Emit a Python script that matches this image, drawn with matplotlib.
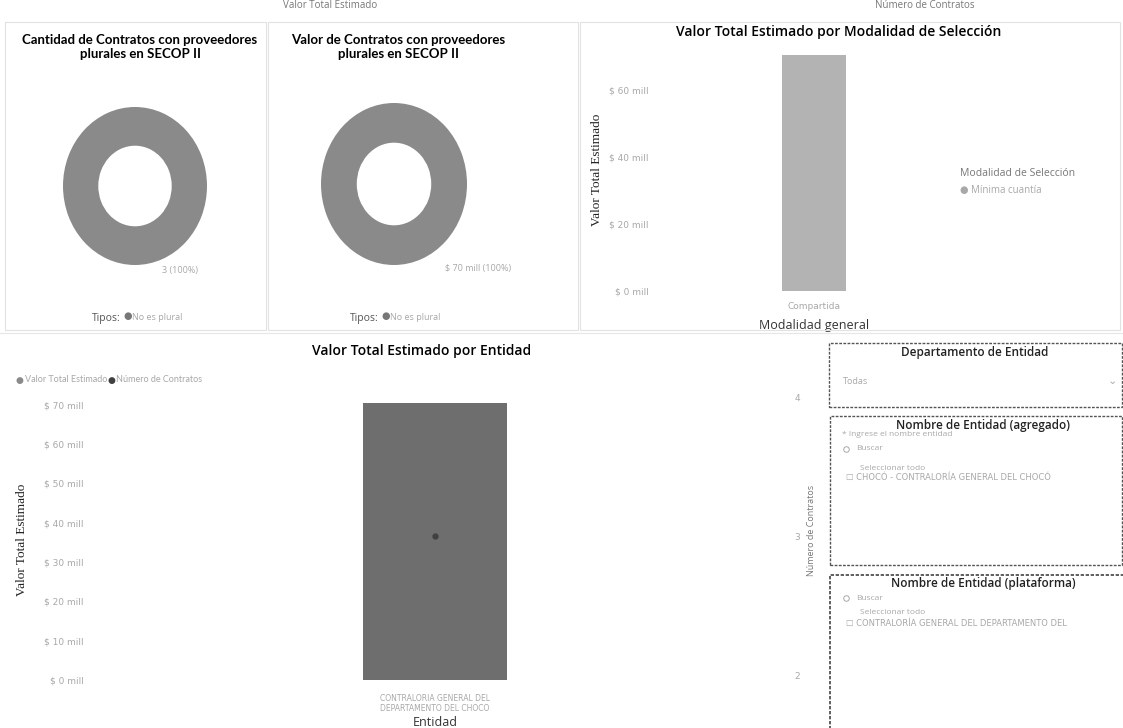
import matplotlib
matplotlib.use('Agg')
import matplotlib.pyplot as plt
from matplotlib.patches import Rectangle
from matplotlib.lines import Line2D

tipos = ['No es plural']
cantidad_contratos = [3]
valor_contratos = [70.4]  # millones

modalidades = ['Compartida']
modalidad_legend = ['Mínima cuantía']
valor_modalidad = [70.4]

entidades = ['CONTRALORIA GENERAL DEL\nDEPARTAMENTO DEL CHOCO']
valor_entidad = [70.4]
numero_contratos = [3]

mod_ticks = [0, 20, 40, 60]
ent_ticks = [0, 10, 20, 30, 40, 50, 60, 70]
num_ticks = [2, 3, 4]

W, H = 1123, 728
TITLE_FONT = ['Open Sans', 'DejaVu Sans']
NARROW = ['Lato', 'DejaVu Sans']
SERIF = ['Liberation Serif', 'DejaVu Serif']
GRAY_TXT = '#a8a8a8'

fig = plt.figure(figsize=(W / 100, H / 100), dpi=100)
fig.patch.set_facecolor('white')


def box(x0, y0, x1, y1):
    # pixel box (top-left origin) -> axes rect
    return [x0 / W, 1 - y1 / H, (x1 - x0) / W, (y1 - y0) / H]


def ftext(x, y, s, **kw):
    kw.setdefault('va', 'center')
    fig.text(x / W, 1 - y / H, s, **kw)


def frame(x0, y0, x1, y1, color='#e2e2e2', lw=0.8, ls='-'):
    fig.add_artist(Rectangle((x0 / W, 1 - y1 / H), (x1 - x0) / W, (y1 - y0) / H,
                             transform=fig.transFigure, fill=False,
                             edgecolor=color, lw=lw, ls=ls))


def search_icon(x, y):
    fig.add_artist(Line2D([x / W], [1 - y / H], transform=fig.transFigure,
                          marker='o', ms=4, mfc='none', mec=GRAY_TXT, mew=0.7))


def money(v):
    return '$ {:.0f} mill'.format(v)


# faint cut-off headers and panel frames
ftext(330, 6, 'Valor Total Estimado', fontsize=7, color='#777777', ha='center', family=TITLE_FONT)
ftext(925, 5, 'Número de Contratos', fontsize=7, color='#777777', ha='center', family=TITLE_FONT)
frame(5, 22, 266, 330)
frame(268, 22, 578, 330)
frame(580, 22, 1120, 330)
fig.add_artist(Line2D([0, 1], [1 - 333 / H, 1 - 333 / H], transform=fig.transFigure,
                      color='#e6e6e6', lw=0.8))

# donut panels
donuts = [
    ('Cantidad de Contratos con proveedores\nplurales en SECOP II', cantidad_contratos,
     '{:.0f} (100%)', (63, 107, 207, 265), 140, (180, 270), 92),
    ('Valor de Contratos con proveedores\nplurales en SECOP II', valor_contratos,
     '$ {:.0f} mill (100%)', (321, 103, 467, 265), 398, (478, 268), 350),
]
for title, vals, fmt, bx, tx, lab, lx in donuts:
    ftext(tx, 47, title, fontsize=9.5, ha='center', family=NARROW,
          weight='bold', linespacing=1.15)
    ax = fig.add_axes(box(*bx))
    ax.pie(vals, colors=['#8a8a8a'], startangle=90, counterclock=False,
           wedgeprops=dict(width=0.49, edgecolor='none'))
    ax.set_aspect('auto')
    ax.set_xlim(-1, 1)
    ax.set_ylim(-1, 1)
    ax.axis('off')
    ftext(lab[0], lab[1], fmt.format(vals[0]), fontsize=6.5, color=GRAY_TXT,
          ha='center', family=TITLE_FONT)
    ftext(lx, 318, 'Tipos:', fontsize=7.5, color='#555555', family=TITLE_FONT)
    ftext(lx + 31, 317, '●', fontsize=7, color='#777777', family=TITLE_FONT)
    ftext(lx + 40, 318, tipos[0], fontsize=6.5, color=GRAY_TXT, family=TITLE_FONT)

# Valor Total Estimado por Modalidad de Selección
ftext(839, 32, 'Valor Total Estimado por Modalidad de Selección', fontsize=10,
      ha='center', family=TITLE_FONT, weight='semibold')
ax3 = fig.add_axes(box(660, 50, 968, 291))
ax3.bar(modalidades, valor_modalidad, width=0.21, color='#b3b3b3')
ax3.set_xlim(-0.5, 0.5)
ax3.set_ylim(0, 72)
ax3.set_yticks(mod_ticks)
ax3.set_yticklabels([money(t) for t in mod_ticks])
ax3.tick_params(length=0, labelsize=6.5, labelcolor=GRAY_TXT, pad=8)
for s in ax3.spines.values():
    s.set_visible(False)
ax3.set_xlabel('Modalidad general', fontsize=9, color='#333333', family=TITLE_FONT, labelpad=6)
ftext(597, 170, 'Valor Total Estimado', fontsize=9.5, rotation=90, ha='center',
      family=SERIF, color='#222222')
ftext(960, 174, 'Modalidad de Selección', fontsize=7.5, color='#777777', family=TITLE_FONT)
ftext(960, 190, '● ' + modalidad_legend[0], fontsize=7, color=GRAY_TXT, family=TITLE_FONT)

# Valor Total Estimado por Entidad
ftext(422, 351, 'Valor Total Estimado por Entidad', fontsize=10, ha='center',
      family=TITLE_FONT, weight='semibold')
ax4 = fig.add_axes(box(95, 397, 775, 680))
ax4.bar(entidades, valor_entidad, width=0.213, color='#6e6e6e')
ax4.set_xlim(-0.5, 0.5)
ax4.set_ylim(0, 72)
ax4.set_yticks(ent_ticks)
ax4.set_yticklabels([money(t) for t in ent_ticks])
ax4.tick_params(length=0, labelsize=6.5, labelcolor=GRAY_TXT, pad=8)
ax4.tick_params(axis='x', labelsize=5.5, pad=10)
for s in ax4.spines.values():
    s.set_visible(False)
ax4.set_xlabel('Entidad', fontsize=9, color='#333333', family=TITLE_FONT, labelpad=2)
ax4b = ax4.twinx()
ax4b.plot(entidades, numero_contratos, 'o', color='#404040', ms=3.5)
ax4b.set_ylim(1.964, 4.007)
ax4b.set_yticks(num_ticks)
ax4b.tick_params(length=0, labelsize=6.5, labelcolor=GRAY_TXT, pad=14)
for s in ax4b.spines.values():
    s.set_visible(False)
ftext(22, 540, 'Valor Total Estimado', fontsize=9.5, rotation=90, ha='center',
      family=SERIF, color='#222222')
ftext(812, 530, 'Número de Contratos', fontsize=6.5, rotation=90, ha='center',
      color='#777777', family=TITLE_FONT)
ftext(16, 380, '●', fontsize=6.5, color='#8a8a8a', family=TITLE_FONT)
ftext(25, 380, 'Valor Total Estimado', fontsize=6.5, color=GRAY_TXT, family=NARROW)
ftext(107, 380, '●', fontsize=6.5, color='#404040', family=TITLE_FONT)
ftext(116, 380, 'Número de Contratos', fontsize=6.5, color=GRAY_TXT, family=NARROW)

# slicers
frame(829, 343, 1122, 407, color='#555555', lw=1.0, ls=(0, (2, 1)))
ftext(975, 352, 'Departamento de Entidad', fontsize=8.5, ha='center', family=TITLE_FONT,
      color='#222222', weight='semibold')
ftext(843, 382, 'Todas', fontsize=6.5, color=GRAY_TXT, family=TITLE_FONT)
ftext(1108, 381, '⌄', fontsize=8, color='#aaaaaa')

frame(830, 416, 1122, 565, color='#555555', lw=1.0, ls=(0, (2, 1)))
ftext(983, 425, 'Nombre de Entidad (agregado)', fontsize=8.5, ha='center',
      family=TITLE_FONT, color='#222222', weight='semibold')
ftext(842, 435, '* Ingrese el nombre entidad', fontsize=6, color=GRAY_TXT, family=TITLE_FONT)
search_icon(846, 449)
ftext(856, 449, 'Buscar', fontsize=6, color=GRAY_TXT, family=TITLE_FONT)
ftext(860, 468, 'Seleccionar todo', fontsize=6, color=GRAY_TXT, family=TITLE_FONT)
ftext(846, 477, '☐ CHOCÓ - CONTRALORÍA GENERAL DEL CHOCÓ', fontsize=6,
      color=GRAY_TXT, family=['DejaVu Sans'])

frame(830, 575, 1124, 735, color='#444444', lw=1.2, ls=(0, (2, 1)))
ftext(983, 584, 'Nombre de Entidad (plataforma)', fontsize=8.5, ha='center',
      family=TITLE_FONT, color='#222222', weight='semibold')
search_icon(846, 598)
ftext(856, 598, 'Buscar', fontsize=6, color=GRAY_TXT, family=TITLE_FONT)
ftext(860, 613, 'Seleccionar todo', fontsize=6, color=GRAY_TXT, family=TITLE_FONT)
ftext(846, 623, '☐ CONTRALORÍA GENERAL DEL DEPARTAMENTO DEL', fontsize=6,
      color=GRAY_TXT, family=['DejaVu Sans'])

fig.savefig('out.png', dpi=100)
